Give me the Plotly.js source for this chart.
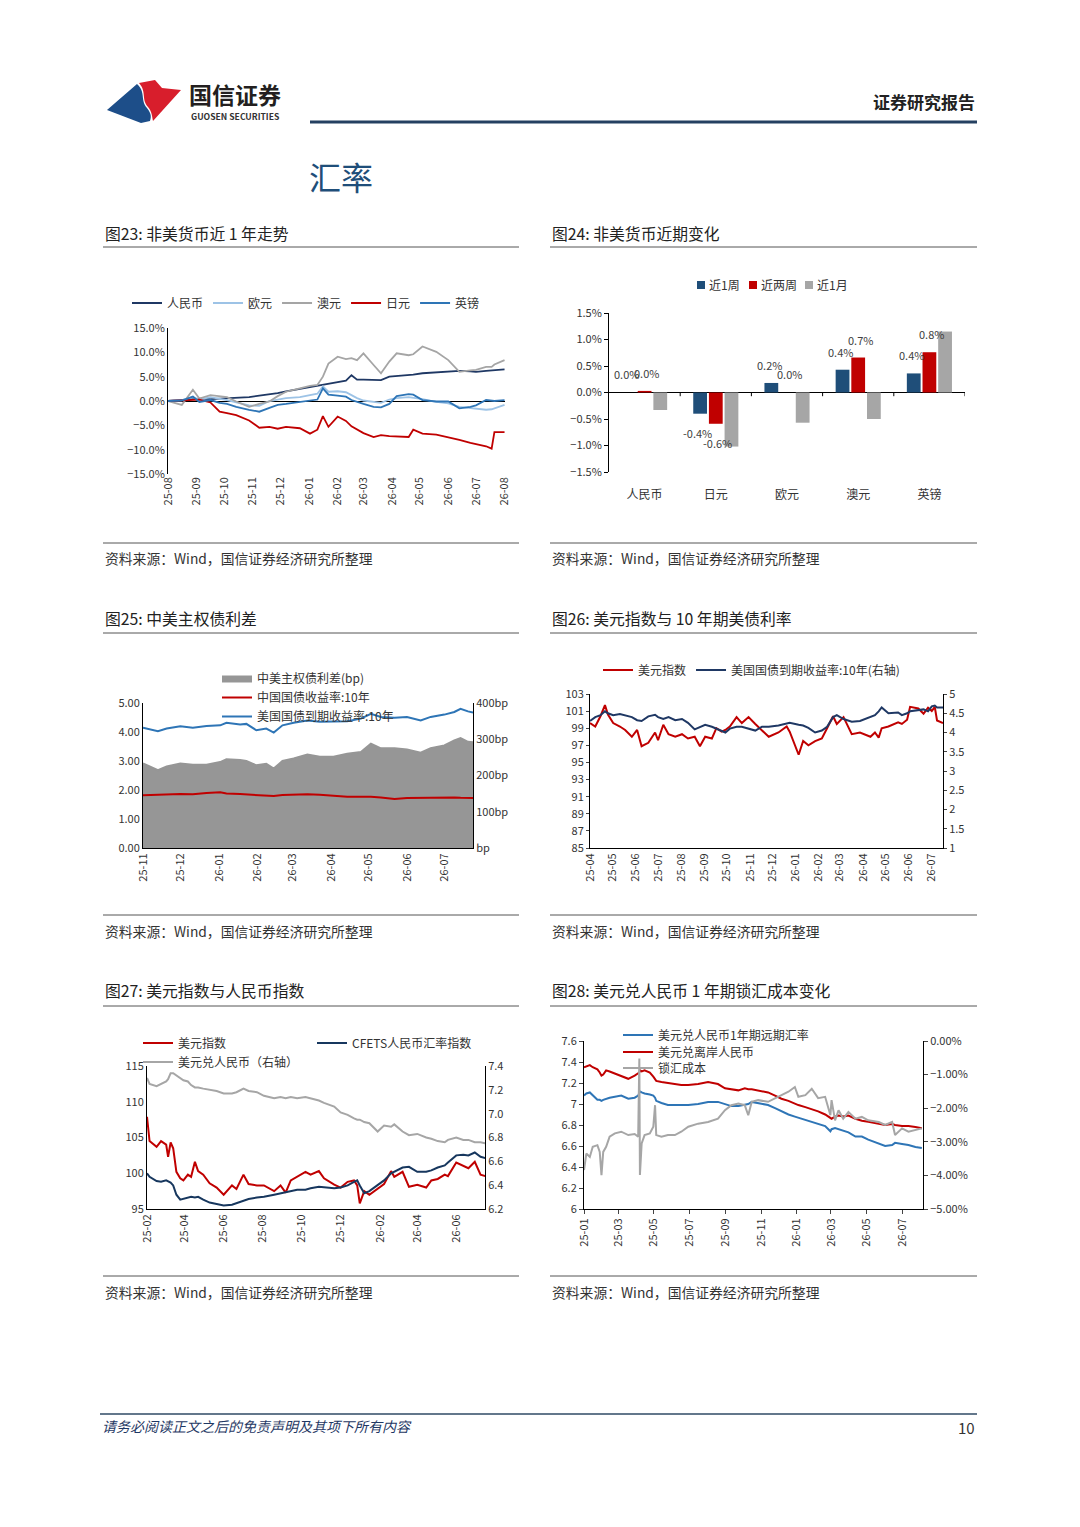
<!DOCTYPE html>
<html><head><meta charset="utf-8">
<script src="https://cdn.plot.ly/plotly-3.0.1.min.js"></script>
<style>html,body{margin:0;padding:0;background:#fff}#page{width:1080px;height:1527px}</style>
</head><body><div id="page"></div>
<script>
// ---------- 图23 非美货币近1年走势 (%) ----------
const f23Dates = ['2025-08-01','2025-08-16','2025-08-28','2025-09-04','2025-09-16','2025-09-26','2025-10-04','2025-10-14','2025-10-28','2025-11-08','2025-11-19','2025-11-28','2025-12-07','2025-12-22','2026-01-02','2026-01-10','2026-01-16','2026-01-22','2026-02-01','2026-02-10','2026-02-16','2026-02-22','2026-03-01','2026-03-12','2026-03-20','2026-03-29','2026-04-06','2026-04-19','2026-04-24','2026-05-04','2026-05-19','2026-06-01','2026-06-13','2026-06-25','2026-07-01','2026-07-12','2026-07-18','2026-07-21','2026-08-01'];
const f23CNY = [0,0.3,0.4,0.5,0.4,0.5,0.6,0.7,0.8,1.1,1.3,1.6,2.0,2.5,2.9,3.1,3.3,3.5,3.9,4.2,5.3,4.4,4.4,4.3,4.3,5.0,5.1,5.3,5.4,5.7,5.9,6.0,6.2,6.1,6.0,6.2,6.3,6.3,6.5];
const f23EUR = [0,0.2,0.8,0.3,0.8,0.5,0.2,-0.3,-0.9,-1.0,0.0,0.3,0.6,0.8,1.2,1.5,3.0,1.9,2.0,1.8,1.2,0.6,0.1,-0.2,-0.4,0.3,0.6,0.8,0.7,0.4,-0.2,-0.5,-1.2,-1.5,-1.5,-1.8,-1.7,-1.5,-0.8];
const f23AUD = [0,-0.8,2.3,0.5,1.2,1.0,0.8,-0.1,-1.2,-0.6,-0.1,1.0,1.9,2.6,3.1,3.3,5.0,7.7,9.1,8.6,8.8,8.4,9.8,7.4,5.7,8.1,9.8,9.4,9.6,11.2,10.1,8.4,6.0,6.3,6.4,7.0,7.0,7.5,8.4];
const f23JPY = [0,0.2,0.3,0.3,-0.3,-2.2,-2.5,-2.9,-4.0,-5.5,-5.3,-5.7,-5.3,-5.6,-6.7,-5.9,-3.1,-5.3,-3.2,-4.1,-5.2,-5.8,-6.6,-7.4,-7.0,-7.2,-7.3,-7.4,-5.9,-6.7,-6.9,-7.4,-8.0,-8.6,-8.9,-9.3,-9.8,-6.4,-6.4];
const f23GBP = [0,0.1,0.9,-0.2,0.2,-0.4,-0.6,-1.2,-1.8,-2.2,-1.4,-0.8,-0.6,-0.2,0.1,0.3,2.6,1.3,1.1,0.9,0.2,-0.2,-0.6,-1.2,-1.3,-0.6,1.0,1.4,1.3,0.2,-0.1,-0.1,-1.5,-1.2,-0.9,0.2,0.1,0.0,0.2];

// ---------- 图24 非美货币近期变化 (%) ----------
const f24Cats = ['人民币','日元','欧元','澳元','英镑'];
const f24Week = [0.00,-0.40,0.18,0.43,0.36];
const f24TwoWeek = [0.03,-0.59,0.00,0.66,0.76];
const f24Month = [-0.33,-1.02,-0.57,-0.50,1.15];
const f24Series = ['近1周','近两周','近1月'];
const f24Colors = ['#1F4E79','#C00000','#A6A6A6'];

// ---------- 图25 中美主权债利差 ----------
const f25Dates = ['2025-11-01','2025-11-13','2025-11-20','2025-12-01','2025-12-11','2025-12-22','2026-01-02','2026-01-07','2026-01-18','2026-01-23','2026-01-31','2026-02-08','2026-02-14','2026-02-21','2026-03-02','2026-03-13','2026-03-23','2026-04-03','2026-04-14','2026-04-25','2026-05-03','2026-05-11','2026-05-22','2026-06-01','2026-06-12','2026-06-20','2026-07-01','2026-07-09','2026-07-14','2026-07-20','2026-07-24'];
const f25Spread = [233,215,225,233,230,230,237,245,243,240,228,232,219,240,247,258,252,252,260,265,288,275,275,272,263,275,283,297,303,293,292];
const f25CN = [1.82,1.84,1.86,1.86,1.85,1.90,1.92,1.88,1.86,1.85,1.82,1.81,1.79,1.83,1.85,1.85,1.84,1.81,1.77,1.77,1.77,1.74,1.69,1.72,1.73,1.73,1.74,1.74,1.73,1.72,1.72];
const f25US = [4.15,4.03,4.12,4.20,4.15,4.21,4.23,4.32,4.26,4.28,4.06,4.12,3.98,4.23,4.32,4.40,4.35,4.35,4.37,4.46,4.63,4.52,4.49,4.52,4.40,4.52,4.60,4.69,4.80,4.71,4.67];
const f25RightTicks = ['bp','100bp','200bp','300bp','400bp'];

// ---------- 图26 美元指数与10年期美债利率 ----------
const f26Dates = ['2025-04-01','2025-04-08','2025-04-15','2025-04-21','2025-04-25','2025-05-02','2025-05-11','2025-05-18','2025-05-27','2025-06-03','2025-06-09','2025-06-18','2025-06-27','2025-07-01','2025-07-08','2025-07-15','2025-07-24','2025-08-02','2025-08-10','2025-08-19','2025-08-26','2025-09-02','2025-09-11','2025-09-17','2025-09-24','2025-09-29','2025-10-05','2025-10-14','2025-10-21','2025-10-30','2025-11-08','2025-11-17','2025-11-26','2025-12-09','2025-12-20','2025-12-24','2026-01-05','2026-01-11','2026-01-18','2026-01-27','2026-02-05','2026-02-12','2026-02-20','2026-02-25','2026-03-06','2026-03-17','2026-03-28','2026-04-11','2026-04-17','2026-04-22','2026-04-26','2026-05-05','2026-05-18','2026-05-23','2026-05-30','2026-06-03','2026-06-14','2026-06-21','2026-06-27','2026-07-02','2026-07-06','2026-07-09','2026-07-17'];
const f26DXY = [99.6,99.2,100.4,101.7,100.6,99.6,99.2,98.8,98.0,98.8,96.9,97.3,98.5,97.6,99.4,98.3,98.0,98.3,97.8,98.0,96.9,98.0,97.8,99.0,98.6,98.8,99.2,100.3,99.6,100.3,99.5,98.8,98.0,98.5,99.2,98.6,95.9,97.5,97.0,97.5,97.8,99.0,100.4,99.5,100.3,98.3,98.5,98.0,98.5,97.9,99.0,99.2,99.7,99.5,100.0,101.5,101.3,100.7,101.4,101.0,101.5,99.9,99.6];
const f26US10Y = [4.30,4.40,4.45,4.55,4.50,4.45,4.48,4.45,4.40,4.32,4.30,4.42,4.46,4.40,4.35,4.40,4.32,4.35,4.25,4.08,4.15,4.20,4.15,4.10,4.05,4.00,4.10,4.15,4.15,4.10,4.05,4.15,4.15,4.18,4.22,4.25,4.20,4.18,4.12,4.00,4.05,4.15,4.40,4.45,4.35,4.28,4.30,4.40,4.45,4.55,4.65,4.50,4.52,4.45,4.50,4.55,4.58,4.60,4.55,4.68,4.70,4.65,4.65];

// ---------- 图27 美元指数与人民币指数 ----------
const f27Dates = ['2025-02-01','2025-02-05','2025-02-16','2025-02-23','2025-03-03','2025-03-06','2025-03-10','2025-03-14','2025-03-19','2025-03-25','2025-03-30','2025-04-06','2025-04-11','2025-04-17','2025-04-22','2025-04-30','2025-05-10','2025-05-21','2025-06-01','2025-06-14','2025-06-21','2025-07-02','2025-07-10','2025-07-23','2025-08-03','2025-08-19','2025-08-29','2025-09-06','2025-09-14','2025-09-24','2025-10-07','2025-10-15','2025-10-28','2025-11-05','2025-11-21','2025-12-01','2025-12-12','2025-12-22','2025-12-27','2025-12-31','2026-01-07','2026-01-15','2026-01-28','2026-02-07','2026-02-18','2026-02-23','2026-03-08','2026-03-18','2026-03-31','2026-04-14','2026-04-22','2026-05-02','2026-05-13','2026-05-18','2026-05-31','2026-06-11','2026-06-19','2026-06-29','2026-07-08','2026-07-16'];
const f27DXY = [107.9,104.5,103.7,104.5,104.0,102.3,104.3,103.5,100.2,99.3,99.0,99.8,99.5,101.6,100.3,99.8,98.6,98.0,97.0,98.3,97.8,99.8,98.5,98.3,98.3,97.5,98.3,97.3,99.0,99.5,100.2,99.8,100.3,99.3,98.4,98.0,98.8,99.0,98.3,95.8,97.5,97.0,97.8,98.5,100.3,99.5,100.2,98.1,98.4,98.0,99.0,99.2,99.8,99.6,101.5,101.0,100.7,101.6,99.8,99.6];
const f27CFETS = [100.0,99.5,98.9,98.8,99.0,98.9,98.7,98.3,97.0,96.3,96.4,96.6,96.7,96.6,96.7,96.3,95.9,95.7,95.5,95.6,95.8,96.1,96.4,96.6,96.7,97.0,97.2,97.3,97.5,97.7,97.7,97.9,98.1,98.0,97.9,98.0,98.3,98.8,99.0,98.3,97.2,97.5,98.3,99.0,100.0,100.2,100.8,100.9,100.2,100.2,100.4,100.8,101.1,101.5,102.5,102.6,102.5,102.9,102.3,102.1];
const f27USDCNY = [7.30,7.25,7.23,7.25,7.27,7.29,7.34,7.34,7.32,7.30,7.28,7.27,7.24,7.22,7.22,7.21,7.20,7.19,7.17,7.17,7.18,7.21,7.19,7.18,7.15,7.13,7.14,7.13,7.14,7.13,7.14,7.13,7.11,7.09,7.06,7.01,6.99,6.96,6.95,6.95,6.93,6.92,6.85,6.90,6.89,6.91,6.85,6.82,6.83,6.80,6.79,6.77,6.76,6.78,6.80,6.78,6.78,6.76,6.76,6.75];

// ---------- 图28 美元兑人民币1年期锁汇成本变化 ----------
const f28Dates = ['2025-01-01','2025-01-05','2025-01-11','2025-01-16','2025-01-24','2025-01-28','2025-01-31','2025-02-03','2025-02-08','2025-02-14','2025-02-23','2025-03-06','2025-03-18','2025-03-29','2025-04-04','2025-04-06','2025-04-07','2025-04-10','2025-04-15','2025-04-24','2025-04-30','2025-05-03','2025-05-05','2025-05-14','2025-05-25','2025-06-06','2025-06-17','2025-06-29','2025-07-16','2025-08-02','2025-08-19','2025-08-31','2025-09-11','2025-09-23','2025-10-04','2025-10-10','2025-10-16','2025-10-27','2025-11-13','2025-11-25','2025-12-06','2025-12-18','2025-12-29','2026-01-04','2026-01-16','2026-01-27','2026-02-07','2026-02-19','2026-02-28','2026-03-02','2026-03-08','2026-03-14','2026-03-22','2026-03-31','2026-04-12','2026-04-23','2026-05-04','2026-05-22','2026-06-02','2026-06-14','2026-06-19','2026-07-01','2026-07-12','2026-07-24','2026-08-04'];
const f28Fwd = [7.08,7.10,7.11,7.08,7.04,7.04,7.03,7.04,7.05,7.06,7.07,7.08,7.05,7.06,7.08,7.10,7.12,7.11,7.10,7.09,7.08,7.06,7.03,7.01,6.99,6.99,6.99,6.99,7.00,7.02,7.02,7.00,6.98,6.98,6.99,7.00,7.02,7.01,6.99,6.96,6.93,6.90,6.88,6.87,6.85,6.83,6.81,6.79,6.74,6.76,6.77,6.76,6.75,6.73,6.69,6.69,6.66,6.62,6.60,6.61,6.63,6.62,6.61,6.59,6.58];
const f28CNH = [7.35,7.36,7.37,7.35,7.33,7.30,7.27,7.28,7.32,7.31,7.29,7.27,7.24,7.27,7.29,7.30,7.32,7.31,7.32,7.30,7.26,7.24,7.22,7.21,7.20,7.19,7.18,7.18,7.19,7.21,7.19,7.15,7.14,7.13,7.15,7.14,7.14,7.13,7.11,7.08,7.05,7.03,7.00,6.99,6.97,6.95,6.93,6.90,6.87,6.86,6.88,6.89,6.88,6.89,6.86,6.84,6.83,6.81,6.80,6.81,6.80,6.79,6.79,6.78,6.77];
const f28Cost = [-3.84,-3.35,-3.45,-3.15,-3.10,-3.30,-3.99,-3.30,-3.15,-2.85,-2.75,-2.70,-2.80,-2.77,-2.85,-0.52,-3.99,-3.05,-2.80,-2.75,-2.55,-1.91,-2.80,-2.85,-2.80,-2.80,-2.70,-2.55,-2.46,-2.41,-2.31,-2.06,-1.91,-1.86,-1.91,-2.21,-1.81,-1.76,-1.81,-1.71,-1.61,-1.51,-1.37,-1.66,-1.61,-1.42,-1.70,-1.66,-2.21,-1.76,-2.36,-2.06,-2.31,-2.11,-2.31,-2.26,-2.36,-2.41,-2.50,-2.41,-2.80,-2.60,-2.70,-2.65,-2.60];

// ---------- page texts ----------
const chartTitles = ['图23: 非美货币近 1 年走势','图24: 非美货币近期变化','图25: 中美主权债利差','图26: 美元指数与 10 年期美债利率','图27: 美元指数与人民币指数','图28: 美元兑人民币 1 年期锁汇成本变化'];
const sourceText = '资料来源：Wind，国信证券经济研究所整理';

// ================= drawing =================
const W = 1080, H = 1527;
const px = v => v / W;
const py = v => 1 - v / H;
const FONT = '"Noto Sans CJK SC","Noto Sans",sans-serif';
const TXT = '#333333';
const NAVY = '#1F3864', RED = '#C00000', GRAY = '#A5A5A5', LBLUE = '#9DC3E6', BLUE = '#2E75B6';

function axis(o) {
  return Object.assign({showgrid:false, zeroline:false, showline:true, linecolor:'#000', linewidth:1,
    ticks:'', tickfont:{size:11, color:TXT, family:FONT}, fixedrange:true}, o);
}
function ln(name, x, y, color, xa, ya, legend, width) {
  return {type:'scatter', mode:'lines', name:name, x:x, y:y, xaxis:xa, yaxis:ya, legend:legend,
    line:{color:color, width:width || 1.8}, hoverinfo:'skip'};
}
function bar(i, y) {
  return {type:'bar', name:f24Series[i], x:f24Cats, y:y, xaxis:'x2', yaxis:'y2', showlegend:false,
    marker:{color:f24Colors[i]}, hoverinfo:'skip', cliponaxis:false};
}

const traces = [
  ln('人民币', f23Dates, f23CNY, NAVY, 'x', 'y', 'legend'),
  ln('欧元', f23Dates, f23EUR, LBLUE, 'x', 'y', 'legend'),
  ln('澳元', f23Dates, f23AUD, GRAY, 'x', 'y', 'legend'),
  ln('日元', f23Dates, f23JPY, RED, 'x', 'y', 'legend'),
  ln('英镑', f23Dates, f23GBP, BLUE, 'x', 'y', 'legend'),

  bar(0, f24Week),
  bar(1, f24TwoWeek),
  bar(2, f24Month),

  {type:'scatter', mode:'lines', name:'中美主权债利差(bp)', x:f25Dates, y:f25Spread, xaxis:'x3', yaxis:'y3',
   legend:'legend3', fill:'tozeroy', fillcolor:'#969696', line:{color:'#969696', width:2}, hoverinfo:'skip'},
  ln('中国国债收益率:10年', f25Dates, f25CN, RED, 'x3', 'y4', 'legend3', 2),
  ln('美国国债到期收益率:10年', f25Dates, f25US, BLUE, 'x3', 'y4', 'legend3', 2),

  ln('美元指数', f26Dates, f26DXY, RED, 'x4', 'y5', 'legend4', 2),
  ln('美国国债到期收益率:10年(右轴)', f26Dates, f26US10Y, NAVY, 'x4', 'y6', 'legend4', 2),

  ln('美元指数', f27Dates, f27DXY, RED, 'x5', 'y7', 'legend5', 2),
  ln('CFETS人民币汇率指数', f27Dates, f27CFETS, '#17375E', 'x5', 'y7', 'legend5', 2),
  ln('美元兑人民币（右轴）', f27Dates, f27USDCNY, '#A6A6A6', 'x5', 'y8', 'legend6', 2),

  ln('美元兑人民币1年期远期汇率', f28Dates, f28Fwd, BLUE, 'x6', 'y9', 'legend7', 2),
  ln('美元兑离岸人民币', f28Dates, f28CNH, RED, 'x6', 'y9', 'legend8', 2),
  ln('锁汇成本', f28Dates, f28Cost, '#A6A6A6', 'x6', 'y10', 'legend9', 2)
];

function lg(o) {
  return Object.assign({xanchor:'left', yanchor:'middle', orientation:'h', bgcolor:'rgba(0,0,0,0)',
    borderwidth:0, font:{size:12, color:TXT, family:FONT}, itemwidth:30, traceorder:'normal'}, o);
}

const dateTick = {type:'date', tickformat:'%y-%m', tickangle:-90};

const layout = {
  width:W, height:H, margin:{l:0, r:0, t:0, b:0}, paper_bgcolor:'#fff', plot_bgcolor:'rgba(0,0,0,0)',
  font:{family:FONT, color:TXT}, showlegend:true, hovermode:false,
  barmode:'group', bargap:0.34, bargroupgap:0.12,

  // 图23
  xaxis: axis(Object.assign({}, dateTick, {domain:[px(168), px(505)], anchor:'free', position:py(474),
    range:['2025-08-01','2026-08-01 12:00'], dtick:'M1', tick0:'2025-08-01', showline:false})),
  yaxis: axis({domain:[py(474), py(328)], anchor:'x', range:[-15,15], dtick:5, tickformat:'.1f', ticksuffix:'%',
    zeroline:true, zerolinecolor:'#000', zerolinewidth:1}),

  // 图24
  xaxis2: axis({type:'category', domain:[px(609), px(965)], anchor:'free', position:py(472), range:[-0.5,4.5],
    showline:false, ticks:'outside', ticklen:12, tickcolor:'rgba(0,0,0,0)', tickfont:{size:12, color:TXT, family:FONT}}),
  yaxis2: axis({domain:[py(472), py(313)], anchor:'x2', range:[-1.5,1.5], dtick:0.5, tickformat:'.1f', ticksuffix:'%',
    zeroline:true, zerolinecolor:'#000', zerolinewidth:1, ticks:'outside', ticklen:4, tickcolor:'#000'}),

  // 图25 (base axis = right bp axis, overlay = left yield axis)
  xaxis3: axis(Object.assign({}, dateTick, {domain:[px(143), px(473)], anchor:'y3',
    range:['2025-11-01','2026-07-24'], dtick:'M1', tick0:'2025-11-01'})),
  yaxis3: axis({domain:[py(848), py(703)], anchor:'x3', side:'right', range:[0,400],
    tickvals:[0,100,200,300,400], ticktext:f25RightTicks}),
  yaxis4: axis({overlaying:'y3', anchor:'x3', side:'left', range:[0,5], dtick:1, tickformat:'.2f'}),

  // 图26
  xaxis4: axis(Object.assign({}, dateTick, {domain:[px(590), px(943)], anchor:'y5',
    range:['2025-04-01','2026-07-17'], dtick:'M1', tick0:'2025-04-01'})),
  yaxis5: axis({domain:[py(848), py(694)], anchor:'x4', range:[85,103], dtick:2, tick0:85, ticks:'outside', ticklen:3}),
  yaxis6: axis({overlaying:'y5', anchor:'x4', side:'right', range:[1,5], dtick:0.5, ticks:'outside', ticklen:3}),

  // 图27
  xaxis5: axis(Object.assign({}, dateTick, {domain:[px(147), px(485)], anchor:'y7',
    range:['2025-02-01','2026-07-15'], dtick:'M2', tick0:'2025-02-01'})),
  yaxis7: axis({domain:[py(1209), py(1066)], anchor:'x5', range:[95,115], dtick:5}),
  yaxis8: axis({overlaying:'y7', anchor:'x5', side:'right', range:[6.2,7.4], dtick:0.2, tickformat:'.1f'}),

  // 图28
  xaxis6: axis(Object.assign({}, dateTick, {domain:[px(584), px(923)], anchor:'y9',
    range:['2025-01-01','2026-08-06'], dtick:'M2', tick0:'2025-01-01', ticks:'outside', ticklen:4})),
  yaxis9: axis({domain:[py(1209), py(1041)], anchor:'x6', range:[6,7.6], dtick:0.2, ticks:'outside', ticklen:4}),
  yaxis10: axis({overlaying:'y9', anchor:'x6', side:'right', range:[-5,0], dtick:1, tickformat:'.2f', ticksuffix:'%',
    ticks:'outside', ticklen:4}),

  legend:  lg({x:px(127), y:py(303)}),
  legend3: lg({x:px(217), y:py(664), yanchor:'top', orientation:'v'}),
  legend4: lg({x:px(598), y:py(670)}),
  legend5: lg({x:px(138), y:py(1043), entrywidth:129, entrywidthmode:'pixels'}),
  legend6: lg({x:px(138), y:py(1062)}),
  legend7: lg({x:px(618), y:py(1035)}),
  legend8: lg({x:px(618), y:py(1052)}),
  legend9: lg({x:px(618), y:py(1068)}),

  annotations: [],
  shapes: []
};

function txt(text, x, y, size, color, xanchor, extra) {
  layout.annotations.push(Object.assign({text:text, x:px(x), y:py(y), xref:'paper', yref:'paper', showarrow:false,
    xanchor:xanchor || 'left', yanchor:'middle', font:{size:size, color:color, family:FONT}}, extra || {}));
}
function hline(x0, x1, y, color, width) {
  layout.shapes.push({type:'line', xref:'paper', yref:'paper', x0:px(x0), x1:px(x1), y0:py(y), y1:py(y),
    line:{color:color, width:width}});
}
function poly(pts, color) {
  let d = '';
  pts.forEach((p, i) => {
    if (p.length === 2) d += (i === 0 ? 'M' : 'L') + px(p[0]).toFixed(5) + ',' + py(p[1]).toFixed(5) + ' ';
    else d += 'C' + px(p[0]).toFixed(5) + ',' + py(p[1]).toFixed(5) + ' ' + px(p[2]).toFixed(5) + ',' + py(p[3]).toFixed(5) + ' ' + px(p[4]).toFixed(5) + ',' + py(p[5]).toFixed(5) + ' ';
  });
  layout.shapes.push({type:'path', xref:'paper', yref:'paper', path:d + 'Z', fillcolor:color, line:{width:0}});
}

// 图24 legend (compact swatches like the original)
const f24LegendX = [697, 749, 805];
f24Series.forEach((name, i) => {
  const x = f24LegendX[i];
  layout.shapes.push({type:'rect', xref:'paper', yref:'paper', x0:px(x), x1:px(x + 8), y0:py(289), y1:py(281),
    fillcolor:f24Colors[i], line:{width:0}});
  txt(name, x + 10, 285, 12, TXT);
});

// 图24 data labels (近1周 / 近两周), placed on the bars through the axis scales
[[f24Week, -18], [f24TwoWeek, 2]].forEach(([vals, shift]) => {
  vals.forEach((v, i) => {
    layout.annotations.push({xref:'x2', yref:'y2', x:f24Cats[i], y:v, text:v.toFixed(1) + '%', showarrow:false,
      xshift:shift, yshift:v >= 0 ? 18 : -19, xanchor:'center', yanchor:'middle',
      font:{size:11, color:'#404040', family:FONT}});
  });
});

// header
poly([[107,110],[137,84],[146,92,140,100,147,108],[152,114,151,118,150,121],[141,123]], '#1D4E89');
poly([[139,83],[155,80],[162,88],[181,90],[153,121],[152,116,152,112,148,107],[141,99,147,92,139,83]], '#D81E2C');
txt('<b>国信证券</b>', 187, 94, 23, '#231F20');
txt('<b>GUOSEN SECURITIES</b>', 189, 116, 8.6, '#333333');
txt('<b>证券研究报告</b>', 977, 102, 17, '#222222', 'right');
hline(310, 977, 122, '#254061', 3);
txt('汇率', 307, 176, 32, '#1F4E79');

// chart frames
const colL = [103, 519], colR = [550, 977];
const rows = [{t:233, u:247, s:543, st:558}, {t:619, u:633, s:915, st:931}, {t:991, u:1006, s:1276, st:1292}];
rows.forEach((r, i) => {
  [colL, colR].forEach((c, j) => {
    txt(chartTitles[i * 2 + j], c[0], r.t, 15.8, '#222222');
    hline(c[0], c[1], r.u, '#555555', 1);
    hline(c[0], c[1], r.s, '#555555', 1);
    txt(sourceText, c[0], r.st, 13.8, '#333333');
  });
});

// category boundary ticks for 图24
[0.5, 1.5, 2.5, 3.5, 4.5].forEach(v => {
  layout.shapes.push({type:'line', xref:'x2', yref:'y2', x0:v, x1:v, y0:0, y1:-0.07, line:{color:'#000', width:1}});
});

// footer
hline(100, 977, 1414, '#2F4A64', 1.5);
txt('<i>请务必阅读正文之后的免责声明及其项下所有内容</i>', 100, 1426, 14, '#1F3864');
txt('10', 977, 1427, 15, '#333333', 'right');

Plotly.newPlot('page', traces, layout, {staticPlot:true, displayModeBar:false});
</script>
</body></html>
